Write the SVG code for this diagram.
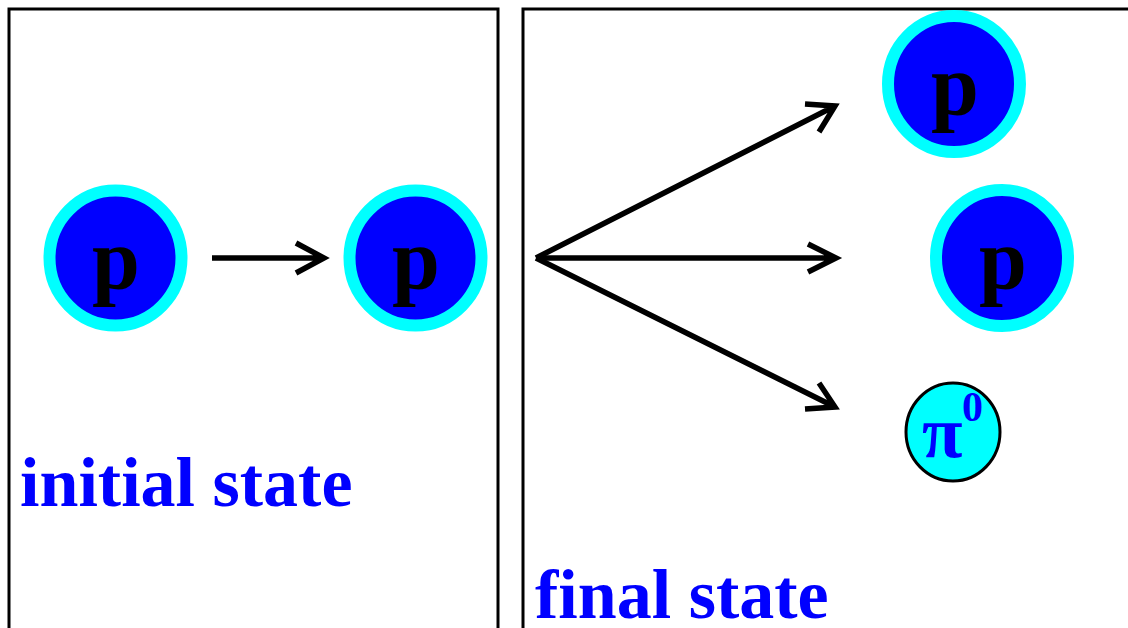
<svg xmlns="http://www.w3.org/2000/svg" width="1128" height="628" viewBox="0 0 1128 628">
<defs>
<style>
.frame{fill:none;stroke:#000;stroke-width:3}
.pr{fill:#0000ff;stroke:#00ffff;stroke-width:12}
.pl{font-family:"Liberation Serif",serif;font-weight:bold;font-size:86px;fill:#000;text-anchor:middle}
.lab{font-family:"Liberation Serif",serif;font-weight:bold;font-size:70px;fill:#0000ff}
.ar{fill:none;stroke:#000;stroke-width:5.5}
</style>
</defs>
<rect x="0" y="0" width="1128" height="628" fill="#fff"/>
<g id="frames">
<rect class="frame" x="9" y="9" width="489" height="640"/>
<rect class="frame" x="523" y="9" width="640" height="640"/>
</g>
<g id="connectors">
<path class="ar" d="M212,258 H324 M296,243 L324,258 L296,273"/>
<path class="ar" d="M536,258 H836 M808,244 L836,258 L808,272"/>
<path class="ar" d="M536,258 L835,106 M805,104 L835,106 L819,132"/>
<path class="ar" d="M536,258 L835,407 M819,383 L835,407 L805,409"/>
</g>
<g id="p1"><ellipse class="pr" cx="115.5" cy="258" rx="66" ry="67.5"/><text class="pl" x="116" y="288">p</text></g>
<g id="p2"><ellipse class="pr" cx="415.5" cy="258" rx="66" ry="67.5"/><text class="pl" x="416" y="288">p</text></g>
<g id="p3"><ellipse class="pr" cx="954" cy="84" rx="66" ry="68"/><text class="pl" x="955" y="114">p</text></g>
<g id="p4"><ellipse class="pr" cx="1002" cy="258" rx="66" ry="68"/><text class="pl" x="1003" y="288">p</text></g>
<g id="pi0"><ellipse cx="953" cy="432" rx="47" ry="49" fill="#00ffff" stroke="#000" stroke-width="3"/>
<text x="922" y="457" font-family="Liberation Serif,serif" font-weight="bold" font-size="74" fill="#0000ff">π</text>
<text x="962" y="421" font-family="Liberation Serif,serif" font-weight="bold" font-size="42" fill="#0000ff">0</text></g>
<g id="labels">
<text class="lab" x="20" y="506">initial state</text>
<text class="lab" x="535" y="618">final state</text>
</g>
</svg>
